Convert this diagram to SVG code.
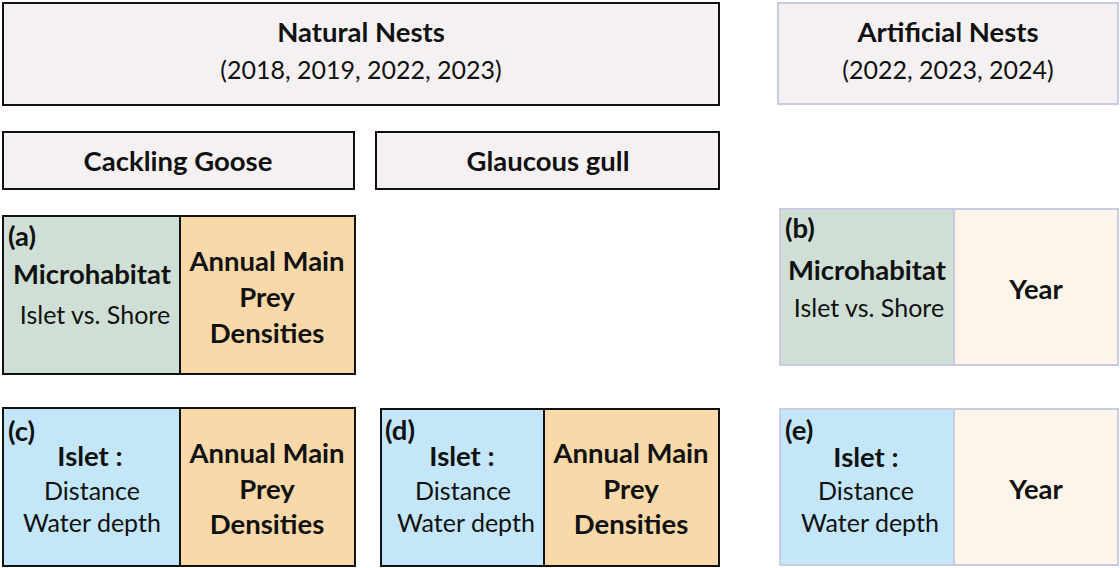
<svg xmlns="http://www.w3.org/2000/svg" width="1120" height="568" viewBox="0 0 1120 568">
<style>
text{font-family:Lato,"Open Sans",sans-serif;fill:#111;text-anchor:middle}
.b{font-weight:bold;font-size:27.5px}
.r{font-size:25px}
.l{text-anchor:start}
.dk{stroke:#111;stroke-width:2}
.lt{stroke:#c9cbe0;stroke-width:2}
.hd{fill:#f5f1f3}
.gr{fill:#cfdfd5}
.or{fill:#f9d9a9}
.bl{fill:#c3e6f8}
.cr{fill:#fdf5ea}
</style>
<rect width="1120" height="568" fill="#fff"/>
<g id="natural">
<rect class="hd dk" x="3" y="3" width="716" height="102"/>
<text class="b" x="361" y="42">Natural Nests</text>
<text class="r" x="361" y="79">(2018, 2019, 2022, 2023)</text>
</g>
<g id="artificial">
<rect class="hd lt" x="778" y="3" width="340" height="101"/>
<text class="b" x="948" y="42">Artificial Nests</text>
<text class="r" x="948" y="79">(2022, 2023, 2024)</text>
</g>
<g id="goose">
<rect class="hd dk" x="3" y="132" width="351" height="57"/>
<text class="b" x="178" y="171">Cackling Goose</text>
</g>
<g id="gull">
<rect class="hd dk" x="376" y="132" width="343" height="57"/>
<text class="b" x="548" y="171">Glaucous gull</text>
</g>
<g id="a">
<rect class="gr dk" x="3" y="216" width="177" height="158"/>
<rect class="or dk" x="180" y="216" width="175" height="158"/>
<text class="b l" x="8" y="246">(a)</text>
<text class="b" x="92" y="284">Microhabitat</text>
<text class="r" x="95" y="324">Islet vs. Shore</text>
<text class="b" x="267" y="271">Annual Main</text>
<text class="b" x="267" y="307">Prey</text>
<text class="b" x="267" y="343">Densities</text>
</g>
<g id="b">
<rect class="gr lt" x="780" y="209" width="174" height="156"/>
<rect class="cr lt" x="954" y="209" width="164" height="156"/>
<text class="b l" x="785" y="238">(b)</text>
<text class="b" x="867" y="280">Microhabitat</text>
<text class="r" x="869" y="317">Islet vs. Shore</text>
<text class="b" x="1036" y="299">Year</text>
</g>
<g id="c">
<rect class="bl dk" x="3" y="408" width="177" height="158"/>
<rect class="or dk" x="180" y="408" width="175" height="158"/>
<text class="b l" x="8" y="441">(c)</text>
<text class="b" x="90" y="466">Islet :</text>
<text class="r" x="92" y="500">Distance</text>
<text class="r" x="92" y="532">Water depth</text>
<text class="b" x="267" y="463">Annual Main</text>
<text class="b" x="267" y="499">Prey</text>
<text class="b" x="267" y="534">Densities</text>
</g>
<g id="d">
<rect class="bl dk" x="381" y="409" width="163" height="157"/>
<rect class="or dk" x="544" y="409" width="175" height="157"/>
<text class="b l" x="385" y="440">(d)</text>
<text class="b" x="462" y="466">Islet :</text>
<text class="r" x="463" y="500">Distance</text>
<text class="r" x="466" y="532">Water depth</text>
<text class="b" x="631" y="463">Annual Main</text>
<text class="b" x="631" y="499">Prey</text>
<text class="b" x="631" y="534">Densities</text>
</g>
<g id="e">
<rect class="bl lt" x="780" y="409" width="174" height="156"/>
<rect class="cr lt" x="954" y="409" width="164" height="156"/>
<text class="b l" x="785" y="440">(e)</text>
<text class="b" x="866" y="467">Islet :</text>
<text class="r" x="866" y="500">Distance</text>
<text class="r" x="870" y="532">Water depth</text>
<text class="b" x="1036" y="499">Year</text>
</g>
<g id="connectors"></g>
</svg>
